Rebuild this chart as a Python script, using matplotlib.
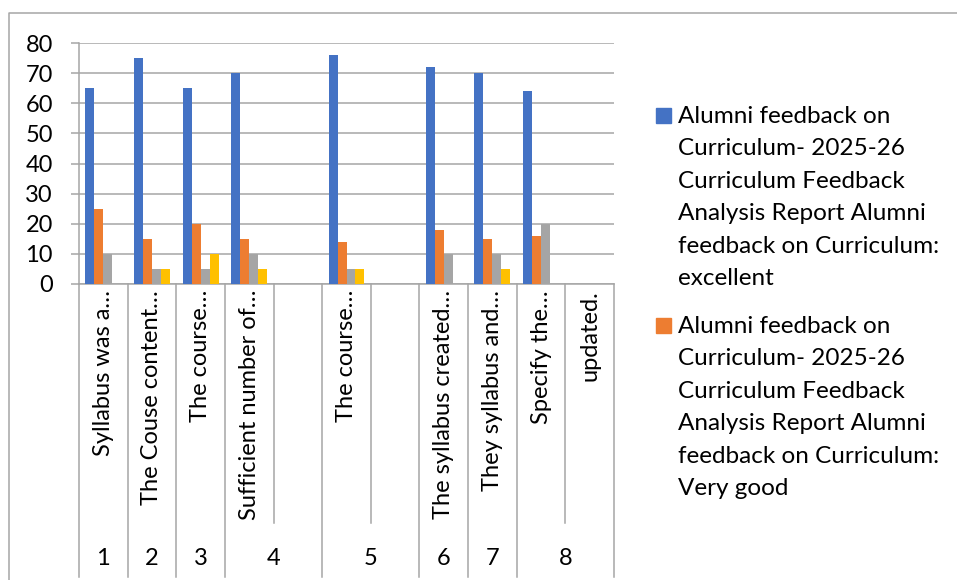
import textwrap
import matplotlib
matplotlib.use('Agg')
import matplotlib.pyplot as plt
import matplotlib.transforms as mtransforms
from matplotlib.lines import Line2D
from matplotlib.patches import Rectangle
import numpy as np

plt.rcParams['font.family'] = ['Lato', 'DejaVu Sans']

# Kategorien (innere Achse) und Gruppen (aeussere Achse)
kategorien = ['Syllabus was a…', 'The Couse content…', 'The course…', 'Sufficient number of…', '',
              'The course…', '', 'The syllabus created…', 'They syllabus and…', 'Specify the…', 'updated.']
gruppen = ['1', '2', '3', '4', '5', '6', '7', '8']
gruppen_breite = [1, 1, 1, 2, 2, 1, 1, 2]

praefix = ('Alumni feedback on Curriculum- 2025-26 Curriculum Feedback Analysis Report '
           'Alumni feedback on Curriculum: ')
reihen_namen = [praefix + 'excellent', praefix + 'Very good', praefix + 'Good', praefix + 'Average']

excellent = [65, 75, 65, 70, np.nan, 76, np.nan, 72, 70, 64, np.nan]
very_good = [25, 15, 20, 15, np.nan, 14, np.nan, 18, 15, 16, np.nan]
good = [10, 5, 5, 10, np.nan, 5, np.nan, 10, 10, 20, np.nan]
average = [0, 5, 10, 5, np.nan, 5, np.nan, 0, 5, 0, np.nan]

farben = ['#4472C4', '#ED7D31', '#A5A5A5', '#FFC000']
grau = '#a6a6a6'

W, H = 957, 580
fig = plt.figure(figsize=(W / 100, H / 100), dpi=100)
ax = fig.add_axes([79 / W, 1 - 284 / H, (614 - 79) / W, (284 - 43) / H])

x = np.arange(len(kategorien))
breite = 0.185
for i, werte in enumerate([excellent, very_good, good, average]):
    ax.bar(x + (i - 1.5) * breite, werte, breite, color=farben[i], label=reihen_namen[i], zorder=3)

ax.set_xlim(-0.5, len(kategorien) - 0.5)
ax.set_ylim(0, 80)
ax.set_yticks(range(0, 81, 10))
ax.set_xticks([])
ax.grid(axis='y', color=grau, linewidth=1.1, zorder=0)
ax.tick_params(axis='y', length=5.8, width=1.1, color=grau, pad=13, labelsize=17)
for s in ['top', 'right']:
    ax.spines[s].set_visible(False)
for s in ['left', 'bottom']:
    ax.spines[s].set_color(grau)
    ax.spines[s].set_linewidth(1.1)

# mehrstufige Kategorienachse
trans = mtransforms.blended_transform_factory(ax.transData, ax.transAxes)
for xi, name in zip(x, kategorien):
    ax.text(xi, -0.025, name, rotation=90, ha='center', va='top', fontsize=17, transform=trans)

kanten = np.concatenate([[0], np.cumsum(gruppen_breite)]) - 0.5
for k in kanten:
    ax.plot([k, k], [0, -1.215], color=grau, lw=1.1, transform=trans, clip_on=False)
for k in np.arange(len(kategorien) + 1) - 0.5:
    if k not in kanten:
        ax.plot([k, k], [0, -0.992], color=grau, lw=1.1, transform=trans, clip_on=False)
for g, a, b in zip(gruppen, kanten[:-1], kanten[1:]):
    ax.text((a + b) / 2, -1.137, g, ha='center', va='center', fontsize=17, transform=trans)
ax.set_xlim(-0.5, len(kategorien) - 0.5)

# Legende (nur die ersten zwei Reihen sichtbar)
zeilen_abstand = 32.4
for i, y_base in enumerate([123, 333]):
    text = textwrap.fill(reihen_namen[i], 23)
    n = text.count('\n')
    fig.add_artist(Rectangle((656 / W, 1 - y_base / H), 15 / W, 15 / H, color=farben[i],
                             transform=fig.transFigure))
    fig.text(678 / W, 1 - (y_base + n * zeilen_abstand) / H, text, fontsize=17.5,
             va='baseline', ha='left', linespacing=1.67)

# Rahmen
fig.add_artist(Line2D([9 / W, 9 / W, 1], [0, 1 - 13 / H, 1 - 13 / H], color=grau, lw=1.1,
                      transform=fig.transFigure))

fig.savefig('out.png', dpi=100)
